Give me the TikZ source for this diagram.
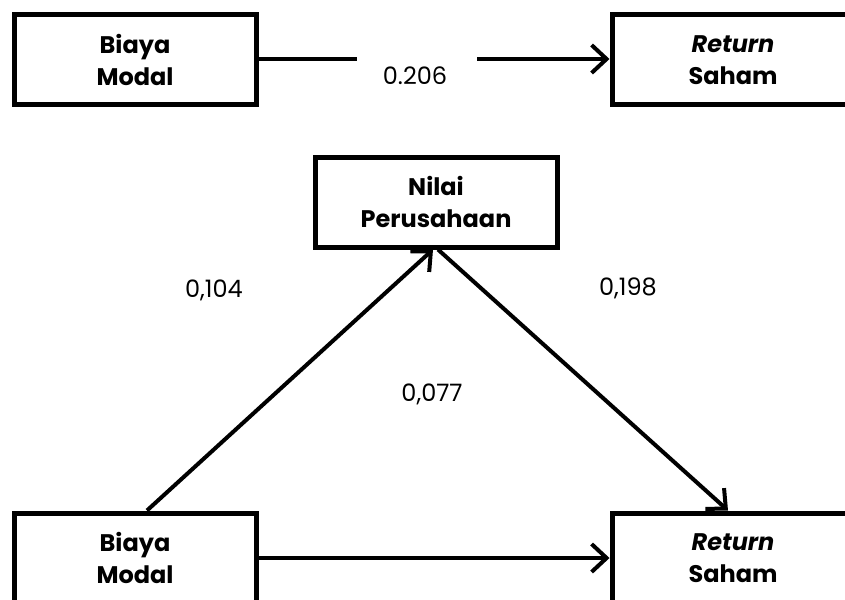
\documentclass[tikz,border=0pt]{standalone}
\usepackage{fontspec}
\setmainfont{Poppins}
\usetikzlibrary{arrows.meta}
\tikzset{
  varbox/.style={draw,line width=5pt,minimum width=242pt,minimum height=90pt,
    align=center,font=\fontsize{24}{32}\selectfont\bfseries},
  coef/.style={font=\fontsize{24}{28}\selectfont},
  conn/.style={line width=4pt},
  effect/.style={conn,-{Straight Barb[length=15pt,width=28pt,line width=4pt]}}
}
\begin{document}
\begin{tikzpicture}[x=1pt,y=-1pt]
\useasboundingbox (0,0) rectangle (845,599);
\clip (0,0) rectangle (845,599);
% direct effect
\node[varbox] (bm1) at (135,60) {Biaya\\Modal};
\node[varbox] (rs1) at (733,60) {\textit{Return}\\Saham};
\coordinate (g1) at (357,59); \coordinate (g2) at (477,59);
\draw[conn] (bm1.east |- g1) -- (g1);
\draw[effect] (g2) -- (rs1.west |- g2);
\node[coef] (c1) at (415,76) {0.206};
% mediation model
\node[varbox] (np) at (436,202) {Nilai\\Perusahaan};
\node[varbox] (bm2) at (135,558) {Biaya\\Modal};
\node[varbox] (rs2) at (733,558) {\textit{Return}\\Saham};
\draw[effect] ([xshift=12pt]bm2.north) -- ([xshift=-3pt]np.south);
\draw[effect] ([xshift=2pt]np.south) -- ([xshift=-5pt]rs2.north);
\draw[effect] (bm2.east) -- (rs2.west);
\node[coef] (c2) at (214,290) {0,104};
\node[coef] (c3) at (628,288) {0,198};
\node[coef] (c4) at (432,394) {0,077};
\end{tikzpicture}
\end{document}
